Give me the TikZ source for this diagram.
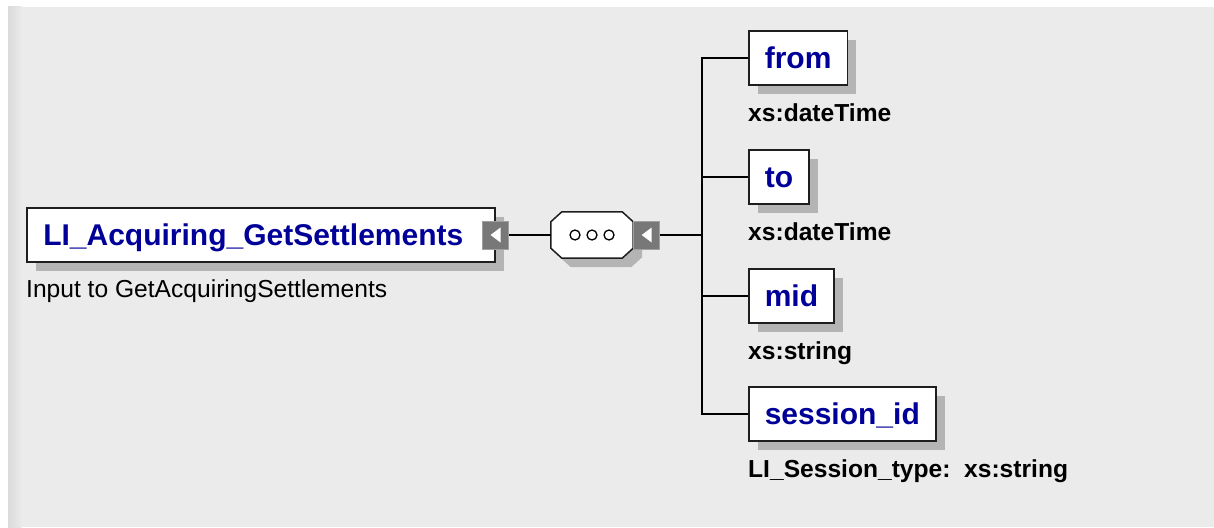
\documentclass[tikz,border=0pt]{standalone}
\usepackage{fontspec}
\setmainfont{Liberation Sans}
\usetikzlibrary{shadows}
\definecolor{bggray}{HTML}{EBEBEB}
\definecolor{edgegray}{HTML}{DADADA}
\definecolor{shadowgray}{HTML}{B4B4B4}
\definecolor{boxline}{HTML}{1E1E1E}
\definecolor{btngray}{HTML}{787878}
\definecolor{btnedge}{HTML}{A0A0A0}
\definecolor{elemblue}{RGB}{0,0,153}
\begin{document}
\begin{tikzpicture}[x=1pt,y=-1pt,
    boxshadow/.style={drop shadow={shadow xshift=9pt,shadow yshift=-9pt,fill=shadowgray,opacity=1}},
    elem/.style={rectangle,draw=boxline,line width=1.5pt,fill=white,inner xsep=16pt,
      minimum height=54pt,text height=24pt,text depth=4pt,
      font=\fontsize{30pt}{36pt}\selectfont\bfseries,text=elemblue,boxshadow},
    typelabel/.style={anchor=base west,inner sep=0pt,font=\fontsize{24.6pt}{30pt}\selectfont\bfseries},
    doclabel/.style={anchor=base west,inner sep=0pt,font=\fontsize{24.6pt}{30pt}\selectfont},
    expander/.style={rectangle,draw=btnedge,line width=1pt,fill=btngray,minimum width=26pt,
      minimum height=28pt,inner sep=0pt,
      path picture={\fill[white] (path picture bounding box.center) ++(-5,0) -- ++(10,-7.5) -- ++(0,15) -- cycle;}},
    seqframe/.style={rectangle,minimum width=82pt,minimum height=46pt,inner sep=0pt},
    seqbox/.style={draw=boxline,line width=1.5pt,fill=white,boxshadow},
    dot/.style={draw=black,line width=1.3pt},
    wire/.style={draw=black,line width=1.5pt}]

    % background
    \fill[white] (0,0) rectangle (1214,527);
    \fill[bggray] (8,7) rectangle (1214,527);
    \shade[left color=edgegray,right color=bggray] (8,7) rectangle (22,527);
    \useasboundingbox (0,0) rectangle (1214,527);

    % root element
    \node at (26,235) [elem,anchor=west,text width=435pt,align=left,inner xsep=16.5pt] (root) {LI\_Acquiring\_GetSettlements};
    \node at (root.east) [expander] (rootbtn) {};
    \node at (26,297) [doclabel] (rootdoc) {Input to GetAcquiringSettlements};

    % sequence
    \node at (592,235) [seqframe] (seq) {};
    \path[seqbox] ([xshift=11pt]seq.north west) -- ([xshift=-11pt]seq.north east)
        -- ([yshift=-10pt]seq.north east) -- ([yshift=10pt]seq.south east)
        -- ([xshift=-11pt]seq.south east) -- ([xshift=11pt]seq.south west)
        -- ([yshift=10pt]seq.south west) -- ([yshift=-10pt]seq.north west) -- cycle;
    \foreach \dx in {-17,0,17}
        \draw[dot] ([xshift=\dx pt]seq.center) circle[radius=5pt];
    \node at (seq.east) [expander,anchor=west] (seqbtn) {};
    \coordinate (bus) at (702,235);

    % children
    \node at (748,58) [elem,anchor=west] (from) {from};
    \node at (748,121) [typelabel] (fromtype) {xs:dateTime};
    \node at (748,177) [elem,anchor=west] (to) {to};
    \node at (748,240) [typelabel] (totype) {xs:dateTime};
    \node at (748,296) [elem,anchor=west] (mid) {mid};
    \node at (748,359) [typelabel] (midtype) {xs:string};
    \node at (748,414) [elem,anchor=west] (sid) {session\_id};
    \node at (748,477) [typelabel] (sidtype) {LI\_Session\_type:\ \ xs:string};

    \draw[wire] (rootbtn.east) -- (seq.west);
    \draw[wire] (seqbtn.east) -- (bus);
    \draw[wire] (from.west) -- (from.west -| bus) -- (sid.west -| bus) -- (sid.west);
    \draw[wire] (to.west) -- (to.west -| bus);
    \draw[wire] (mid.west) -- (mid.west -| bus);
\end{tikzpicture}
\end{document}
